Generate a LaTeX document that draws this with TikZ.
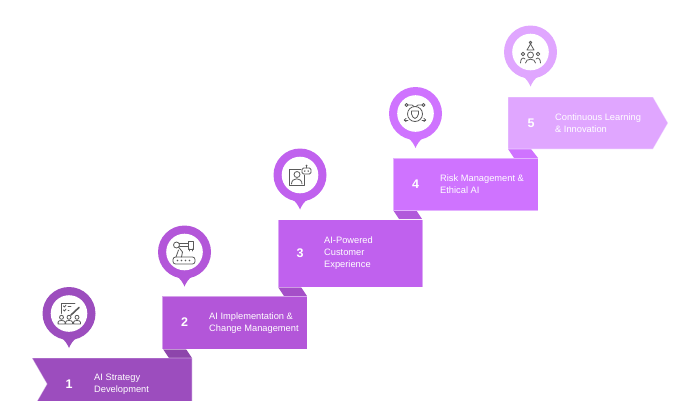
\documentclass[tikz,border=0pt]{standalone}
\usepackage{fontspec}
\setmainfont{Liberation Sans}
\definecolor{cA}{HTML}{9C4DBE}
\definecolor{cB}{HTML}{B356D9}
\definecolor{cC}{HTML}{C061EE}
\definecolor{cD}{HTML}{CF73FF}
\definecolor{cE}{HTML}{E0A6FF}
\definecolor{icn}{HTML}{5A5A5A}
\tikzset{
  stepshape/.style={draw=white,draw opacity=.45,line width=.8pt},
  foldshape/.style={draw=none},
  numlabel/.style={text=white,font=\fontsize{12.5}{14}\selectfont\bfseries,inner sep=0pt},
  steplabel/.style={text=white,font=\fontsize{9.3}{12}\selectfont,align=left,anchor=west,inner sep=0pt},
  ic/.style={draw=icn,line width=.8pt,fill=none,line cap=round,line join=round},
  pics/pin/.style={code={
    \fill[#1] (-8,24) .. controls (-4,27) and (-2,30) .. (0,34.5) .. controls (2,30) and (4,27) .. (8,24) -- cycle;
    \fill[#1] (0,0) circle[radius=26.5];
    \fill[white] (0,0) circle[radius=18.3];
  }}
}
\begin{document}
\begin{tikzpicture}[x=1pt,y=-1pt]
\useasboundingbox (0,0) rectangle (700,400);
\clip (0,0) rectangle (700,400);
% folds
\fill[cA!90!black,foldshape] (163,349) -- (186,349) -- (192,358) -- (169,358) -- cycle;
\fill[cB!92!black,foldshape] (278,287) -- (301,287) -- (307,296) -- (284,296) -- cycle;
\fill[cC!92!black,foldshape] (393,210) -- (416,210) -- (422,219) -- (399,219) -- cycle;
\fill[cD,foldshape] (508,149) -- (531,149) -- (538,158) -- (514,158) -- cycle;
% steps
\filldraw[fill=cA,stepshape] (32,358) -- (192,358) -- (192,410) -- (32,410) -- (47,384) -- cycle;
\filldraw[fill=cB,stepshape] (162,296) rectangle (307,349);
\filldraw[fill=cC,stepshape] (278,219.5) rectangle (422.5,287);
\filldraw[fill=cD,stepshape] (393,158) rectangle (538,210.5);
\filldraw[fill=cE,stepshape] (508,97) -- (653,97) -- (668,123) -- (653,149) -- (508,149) -- cycle;
% labels
\node[numlabel] (n1) at (69,384) {1};
\node[numlabel] (n2) at (184.5,322.5) {2};
\node[numlabel] (n3) at (300,253.5) {3};
\node[numlabel] (n4) at (415.5,184) {4};
\node[numlabel] (n5) at (531,123) {5};
\node[steplabel] (t1) at (94,384) {AI Strategy\\Development};
\node[steplabel] (t2) at (209,323) {AI Implementation \&\\Change Management};
\node[steplabel] (t3) at (324,253) {AI-Powered\\Customer\\Experience};
\node[steplabel] (t4) at (440,184) {Risk Management \&\\Ethical AI};
\node[steplabel] (t5) at (555,123) {Continuous Learning\\\& Innovation};
% pins
\pic at (69,313.5) {pin=cA};
\pic at (184.5,252) {pin=cB};
\pic at (300,175) {pin=cC};
\pic at (415.5,113.5) {pin=cD};
\pic at (530.5,52) {pin=cE};
% icon 1
\begin{scope}[shift={(69,313.5)}]
\draw[ic] (6,-10.5) -- (-8,-10.5) -- (-8,0);
\draw[ic] (-5.5,-7.5) -- (-4.5,-6.5) -- (-3,-8.5) (-5.5,-3.5) -- (-4.5,-2.5) -- (-3,-4.5);
\draw[ic] (-1,-7) -- (2,-7) (-1,-3) -- (0,-3);
\draw[ic,line width=1.6pt] (2,1.5) -- (10,-6);
\foreach \x in {-7.5,0,8}{
  \draw[ic] (\x,3.8) circle[radius=2];
  \draw[ic] (\x-3.4,10.5) -- (\x-3.4,8.5) .. controls (\x-3.4,6.5) and (\x+3.4,6.5) .. (\x+3.4,8.5) -- (\x+3.4,10.5) -- cycle;
}
\end{scope}
% icon 2
\begin{scope}[shift={(184.5,252)}]
\draw[ic,rounded corners=2.5pt] (-11.5,5) rectangle (10.5,12);
\foreach \x in {-7,-3,1,5}{\fill[icn] (\x,8.5) circle[radius=.9];}
\draw[ic] (-8.5,5) -- (-6,-2) (-3,5) -- (-2,0) -- (-6,-5);
\draw[ic] (-8,-7) circle[radius=3];
\draw[ic] (-5.5,-9) -- (3.5,-9) (-5,-6) -- (3.5,-6);
\draw[ic] (3.5,-11) rectangle (8.5,-3);
\draw[ic] (4.5,-3) -- (4.5,-1) (7.5,-3) -- (7.5,-1);
\end{scope}
% icon 3
\begin{scope}[shift={(300,175)}]
\draw[ic] (1,-6) -- (-11,-6) -- (-11,10) -- (4,10) -- (4,0);
\draw[ic] (-3,-0.5) circle[radius=3];
\draw[ic] (-8.5,9) .. controls (-8.5,2) and (2,2) .. (2,9);
\draw[ic,rounded corners=1.5pt] (2,-7) rectangle (11,-1);
\draw[ic] (6.5,-7) -- (6.5,-9);
\fill[icn] (6.5,-9.5) circle[radius=1];
\fill[icn] (4.8,-4) circle[radius=.8] (8.2,-4) circle[radius=.8];
\end{scope}
% icon 4
\begin{scope}[shift={(415,114)}]
\draw[ic] (0,0) circle[radius=7.5];
\draw[ic] (-3.5,-3) -- (3.5,-3) -- (3.5,0) .. controls (3.5,2.5) and (1,4) .. (0,4.5) .. controls (-1,4) and (-3.5,2.5) .. (-3.5,0) -- cycle;
\draw[ic] (-8.5,-9) circle[radius=1.5] (8.5,-9) circle[radius=1.5];
\draw[ic] (-7,-9) -- (-3,-9) -- (-1,-7.5) (7,-9) -- (3,-9) -- (1,-7.5);
\draw[ic] (-7,6) -- (-10.5,6) (7,6) -- (10.5,6);
\draw[ic] (-9,4.5) -- (-10.8,6) -- (-9,7.5) (9,4.5) -- (10.8,6) -- (9,7.5);
\end{scope}
% icon 5
\begin{scope}[shift={(530.5,52)}]
\draw[ic] (-3.5,-2) -- (0,-8) -- (3.5,-2) -- cycle;
\draw[ic] (0,-9.5) circle[radius=1.3];
\draw[ic] (0,3) circle[radius=3];
\draw[ic] (-5,11) .. controls (-5,6) and (5,6) .. (5,11);
\draw[ic] (-7.5,2) circle[radius=1.8] (7.5,2) circle[radius=1.8];
\draw[ic] (-10,11) .. controls (-10,6) and (-7,5) .. (-5.5,7);
\draw[ic] (10,11) .. controls (10,6) and (7,5) .. (5.5,7);
\end{scope}
\end{tikzpicture}
\end{document}
